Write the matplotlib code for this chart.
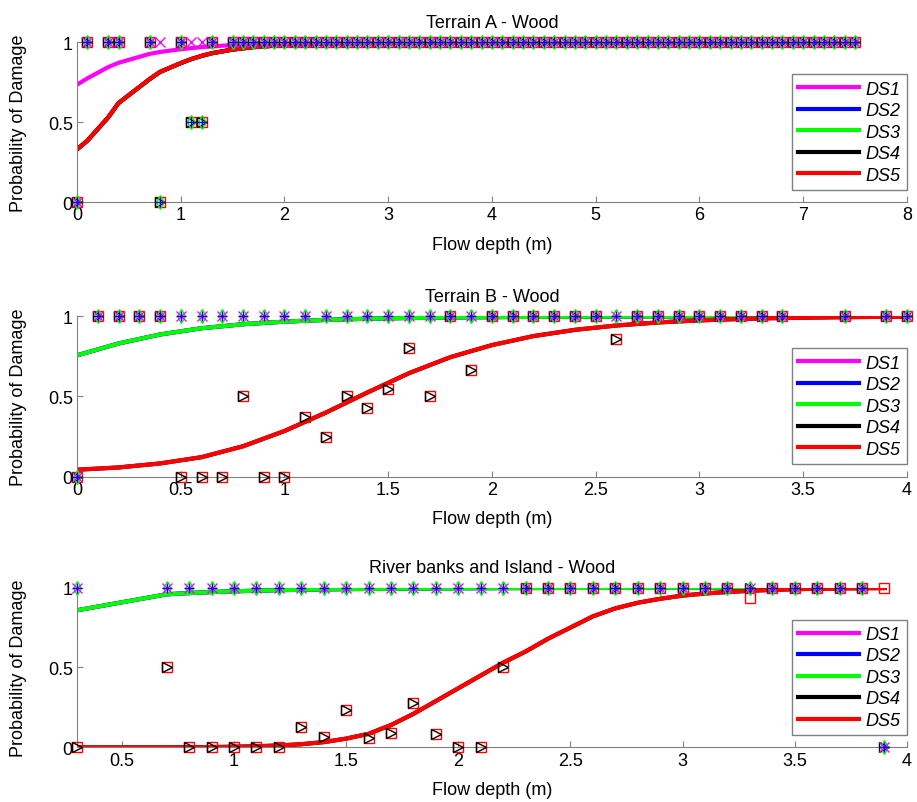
import matplotlib.pyplot as plt

plt.rcParams['font.family'] = ['Liberation Sans', 'DejaVu Sans']

# ---- Terrain A - Wood ----
xA = [0, 0.1, 0.3, 0.4, 0.7, 0.8, 1.0, 1.1, 1.2, 1.3,
      1.5, 1.6, 1.7, 1.8, 1.9, 2.0, 2.1, 2.2, 2.3, 2.4, 2.5, 2.6, 2.7, 2.8, 2.9,
      3.0, 3.1, 3.2, 3.3, 3.4, 3.5, 3.6, 3.7, 3.8, 3.9, 4.0, 4.1, 4.2, 4.3, 4.4,
      4.5, 4.6, 4.7, 4.8, 4.9, 5.0, 5.1, 5.2, 5.3, 5.4, 5.5, 5.6, 5.7, 5.8, 5.9,
      6.0, 6.1, 6.2, 6.3, 6.4, 6.5, 6.6, 6.7, 6.8, 6.9, 7.0, 7.1, 7.2, 7.3, 7.4, 7.5]
A_ds1 = [0, 1, 1, 1, 1, 1, 1, 1, 1, 1] + [1] * 61
A_ds2 = [0, 1, 1, 1, 1, 0, 1, 0.5, 0.5, 1] + [1] * 61
A_ds3 = A_ds2
A_ds4 = A_ds2
A_ds5 = A_ds2
fitA_x = [0, 0.1, 0.3, 0.4, 0.7, 0.8, 1.0, 1.1, 1.2, 1.3, 1.5, 1.7, 2.0, 2.5, 3.0, 4.0, 5.0, 6.0, 7.5]
fitA_ds1 = [0.735, 0.775, 0.845, 0.872, 0.928, 0.94, 0.957, 0.964, 0.97, 0.975,
            0.983, 0.988, 0.993, 0.997, 0.999, 1, 1, 1, 1]
fitA_ds5 = [0.33, 0.385, 0.53, 0.62, 0.77, 0.815, 0.87, 0.895, 0.915, 0.932,
            0.955, 0.97, 0.984, 0.994, 0.998, 1, 1, 1, 1]

# ---- Terrain B - Wood ----
xB = [0, 0.1, 0.2, 0.3, 0.4, 0.5, 0.6, 0.7, 0.8, 0.9, 1.0, 1.1, 1.2, 1.3, 1.4,
      1.5, 1.6, 1.7, 1.8, 1.9, 2.0, 2.1, 2.2, 2.3, 2.4, 2.5, 2.6, 2.7, 2.8, 2.9,
      3.0, 3.1, 3.2, 3.3, 3.4, 3.7, 3.9, 4.0]
B_ds1 = [0] + [1] * 37
B_ds2 = B_ds1
B_ds3 = B_ds1
B_ds4 = [0, 1, 1, 1, 1, 0, 0, 0, 0.5, 0, 0, 0.375, 0.25, 0.5, 0.43,
         0.545, 0.8, 0.5, 1, 0.667, 1, 1, 1, 1, 1, 1, 0.857, 1, 1, 1,
         1, 1, 1, 1, 1, 1, 1, 1]
B_ds5 = B_ds4
fitB_x = [0, 0.2, 0.4, 0.6, 0.8, 1.0, 1.2, 1.4, 1.6, 1.8, 2.0, 2.2, 2.4, 2.6, 2.8,
          3.0, 3.2, 3.4, 3.7, 3.9, 4.0]
fitB_ds3 = [0.756, 0.83, 0.886, 0.925, 0.95, 0.966, 0.977, 0.984, 0.989, 0.992, 0.994,
            0.996, 0.997, 0.998, 0.999, 0.999, 1, 1, 1, 1, 1]
fitB_ds5 = [0.044, 0.058, 0.083, 0.122, 0.19, 0.285, 0.40, 0.525, 0.645, 0.745, 0.82,
            0.876, 0.915, 0.942, 0.961, 0.974, 0.983, 0.989, 0.994, 0.996, 0.997]

# ---- River banks and Island - Wood ----
xC = [0.3, 0.7, 0.8, 0.9, 1.0, 1.1, 1.2, 1.3, 1.4, 1.5, 1.6, 1.7, 1.8, 1.9, 2.0,
      2.1, 2.2, 2.3, 2.4, 2.5, 2.6, 2.7, 2.8, 2.9, 3.0, 3.1, 3.2, 3.3, 3.4, 3.5,
      3.6, 3.7, 3.8, 3.9]
C_ds1 = [1] * 33 + [0]
C_ds2 = C_ds1
C_ds3 = C_ds1
C_ds4 = [0, 0.5, 0, 0, 0, 0, 0, 0.13, 0.067, 0.235, 0.059, 0.087, 0.28, 0.083, 0,
         0, 0.5, 1, 1, 1, 1, 1, 1, 1, 1, 1, 1, 1, 1, 1,
         1, 1, 1, 0]
C_ds5 = [0, 0.5, 0, 0, 0, 0, 0, 0.13, 0.067, 0.235, 0.059, 0.087, 0.28, 0.083, 0,
         0, 0.5, 1, 1, 1, 1, 1, 1, 1, 1, 1, 1, 0.9375, 1, 1,
         1, 1, 1, 1]
fitC_x_ds3 = [0.3, 0.7, 0.8, 0.9, 1.0, 1.2, 1.4, 1.6, 1.8, 2.0, 2.5, 3.0, 3.5, 3.9]
fitC_ds3 = [0.858, 0.958, 0.966, 0.972, 0.977, 0.984, 0.989, 0.992, 0.994, 0.996,
            0.998, 0.999, 1, 1]
fitC_ds5 = [0.0, 0.0, 0.001, 0.002, 0.004, 0.007, 0.012, 0.02, 0.033, 0.055, 0.085,
            0.14, 0.21, 0.29, 0.37, 0.45, 0.53, 0.6, 0.68, 0.75, 0.82, 0.87, 0.905,
            0.93, 0.95, 0.963, 0.973, 0.98, 0.986, 0.99, 0.993, 0.995, 0.996, 0.997]

colors = ['#ff00ff', '#0000ff', '#00ff00', '#000000', '#ff0000']
markers = ['x', '+', 'd', '>', 's']
labels = ['DS1', 'DS2', 'DS3', 'DS4', 'DS5']

panels = [
    dict(title='Terrain A - Wood', x=xA, ys=[A_ds1, A_ds2, A_ds3, A_ds4, A_ds5],
         fx=[fitA_x] * 5, fys=[fitA_ds1, fitA_ds5, fitA_ds5, fitA_ds5, fitA_ds5],
         xlim=(0, 8), xticks=[0, 1, 2, 3, 4, 5, 6, 7, 8],
         rect=[0.084, 0.747, 0.905, 0.199]),
    dict(title='Terrain B - Wood', x=xB, ys=[B_ds1, B_ds2, B_ds3, B_ds4, B_ds5],
         fx=[fitB_x] * 5, fys=[fitB_ds3, fitB_ds3, fitB_ds3, fitB_ds5, fitB_ds5],
         xlim=(0, 4), xticks=[0, 0.5, 1, 1.5, 2, 2.5, 3, 3.5, 4],
         rect=[0.084, 0.405, 0.905, 0.200]),
    dict(title='River banks and Island - Wood', x=xC, ys=[C_ds1, C_ds2, C_ds3, C_ds4, C_ds5],
         fx=[fitC_x_ds3, fitC_x_ds3, fitC_x_ds3, xC, xC],
         fys=[fitC_ds3, fitC_ds3, fitC_ds3, fitC_ds5, fitC_ds5],
         xlim=(0.3, 4), xticks=[0.5, 1, 1.5, 2, 2.5, 3, 3.5, 4],
         rect=[0.084, 0.068, 0.905, 0.199]),
]

fig = plt.figure(figsize=(9.17, 8.03), dpi=100)

for p in panels:
    ax = fig.add_axes(p['rect'])
    lines = []
    for i in range(5):
        ln, = ax.plot(p['fx'][i], p['fys'][i], color=colors[i], lw=3, zorder=2, label=labels[i])
        lines.append(ln)
    for i in [4, 3, 2, 0, 1]:
        ax.plot(p['x'], p['ys'][i], linestyle='none', marker=markers[i], ms=7,
                mfc='none', mec=colors[i], mew=1, zorder=3, clip_on=False)
    ax.set_xlim(*p['xlim'])
    ax.set_ylim(0, 1)
    ax.set_xticks(p['xticks'])
    ax.set_xticklabels(['%g' % t for t in p['xticks']])
    ax.set_yticks([0, 0.5, 1])
    ax.set_yticklabels(['0', '0.5', '1'])
    for s in ['top', 'right']:
        ax.spines[s].set_visible(False)
    for s in ['left', 'bottom']:
        ax.spines[s].set_color('#808080')
    ax.tick_params(direction='in', length=4, color='#808080', labelsize=13, pad=3)
    ax.set_title(p['title'], fontsize=13, pad=11)
    ax.set_xlabel('Flow depth (m)', fontsize=13, labelpad=9)
    ax.set_ylabel('Probability of Damage', fontsize=13)
    ax.yaxis.set_label_coords(-0.06, 0.5)
    leg = ax.legend(handles=lines, loc='upper right', bbox_to_anchor=(1.0, 0.80),
                    borderaxespad=0, fancybox=False, framealpha=1, edgecolor='#808080',
                    prop={'style': 'italic', 'size': 13}, handlelength=3.4,
                    handletextpad=0.35, labelspacing=0.25, borderpad=0.35)
    leg.get_frame().set_linewidth(1)
    leg.set_zorder(5)

fig.savefig('out.png', dpi=100)
